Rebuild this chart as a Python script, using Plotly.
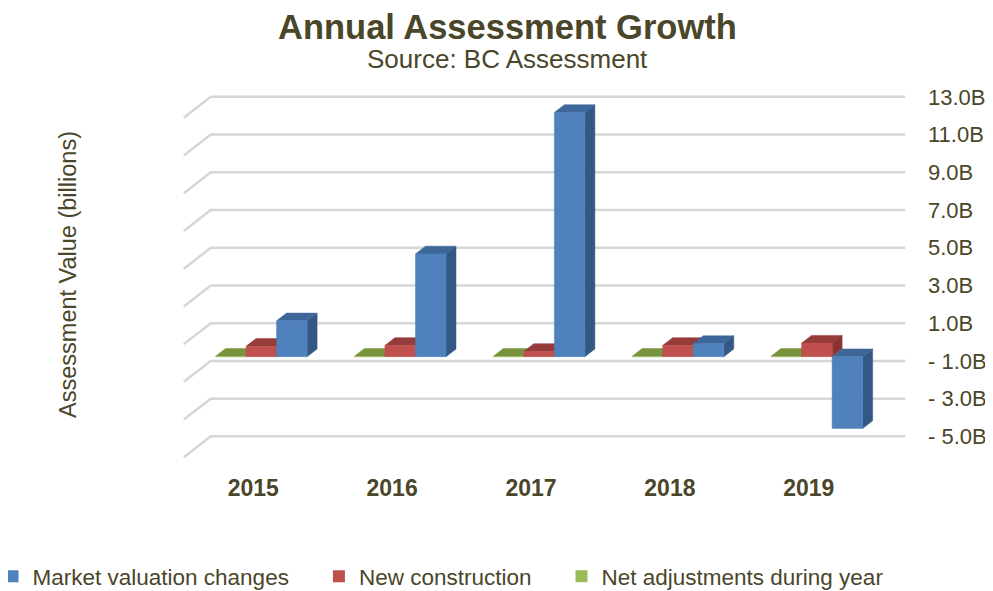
import plotly.graph_objects as go

years = ["2015", "2016", "2017", "2018", "2019"]
market_valuation = [1.9, 5.45, 12.95, 0.7, -3.8]
new_construction = [0.55, 0.6, 0.28, 0.6, 0.72]
net_adjustments = [0.02, 0.02, 0.02, 0.02, 0.02]
tick_values = [-5, -3, -1, 1, 3, 5, 7, 9, 11, 13]

TEXT = "#4A4629"
FONT = "Arial, Liberation Sans, sans-serif"

# fake 3D: back wall is the axis frame, depth pushes points left/down
DX, DY = 0.194, 1.11        # full floor depth in x-units / billions
F_FRONT, F_BACK = 0.70, 0.33  # bar front/back depth fractions
W = 0.22                    # bar width

series = [
    # name, values, front, top, side
    ("Net adjustments during year", net_adjustments, "#9BBB59", "#77933C", "#6A8535"),
    ("New construction", new_construction, "#C0504D", "#953B39", "#8A3432"),
    ("Market valuation changes", market_valuation, "#4F81BD", "#3E6799", "#345884"),
]
# trailing no-break spaces widen the legend entries like the original
legend_pad = {"Market valuation changes": 4, "New construction": 4, "Net adjustments during year": 0}


def proj(x, v, f):
    return x + DX * (1 - f), v - DY * f


def tick_label(v):
    return f"{v:.1f}B" if v >= 0 else f"- {abs(v):.1f}B"


fig = go.Figure()

# back wall + side wall gridlines
gx, gy = [], []
for v in tick_values:
    for x, val, f in [(-0.5, v, 1), (-0.5, v, 0), (4.5, v, 0)]:
        px, py = proj(x, val, f)
        gx.append(px)
        gy.append(py)
    gx.append(None)
    gy.append(None)
fig.add_trace(go.Scatter(x=gx, y=gy, mode="lines", line=dict(color="#D6D6D6", width=2.5),
                         hoverinfo="skip", showlegend=False))

for k, (name, vals, c_front, c_top, c_side) in enumerate(series):
    faces = {"side": ([], []), "top": ([], []), "front": ([], [])}
    for i, val in enumerate(vals):
        xc = i + (k - 1) * W
        xl, xr = xc - W / 2, xc + W / 2
        lo, hi = min(0, val), max(0, val)
        polys = {
            "side": [(xr, lo, F_FRONT), (xr, hi, F_FRONT), (xr, hi, F_BACK), (xr, lo, F_BACK)],
            "top": [(xl, hi, F_FRONT), (xr, hi, F_FRONT), (xr, hi, F_BACK), (xl, hi, F_BACK)],
            "front": [(xl, lo, F_FRONT), (xr, lo, F_FRONT), (xr, hi, F_FRONT), (xl, hi, F_FRONT)],
        }
        for face, pts in polys.items():
            for p in pts + [pts[0]]:
                px, py = proj(*p)
                faces[face][0].append(px)
                faces[face][1].append(py)
            faces[face][0].append(None)
            faces[face][1].append(None)
    for face, color in [("side", c_side), ("top", c_top), ("front", c_front)]:
        fig.add_trace(go.Scatter(
            x=faces[face][0], y=faces[face][1], mode="lines", fill="toself",
            fillcolor=color, line=dict(color=color, width=0.5),
            hoverinfo="skip", showlegend=False))

# legend entries (blue, red, green)
for name, vals, c_front, _, _ in reversed(series):
    fig.add_trace(go.Scatter(x=[None], y=[None], mode="markers",
                             name=name + "\u00a0" * legend_pad[name],
                             marker=dict(symbol="square", size=12, color=c_front)))

# page body has an 8px margin, so the figure is sized to the visible area
fig.update_layout(
    width=985, height=583,
    margin=dict(l=173, r=87, t=86, b=132, autoexpand=False),
    plot_bgcolor="white", paper_bgcolor="white",
    font=dict(family=FONT, color=TEXT),
    hovermode=False,
    xaxis=dict(range=[-0.52, 4.70], tickvals=list(range(len(years))),
               ticktext=[f"<b>{y}</b>" for y in years], tickfont=dict(size=23),
               showgrid=False, zeroline=False, showline=False, ticks="",
               ticklabelstandoff=13),
    yaxis=dict(range=[-6.2, 13.15], side="right", tickvals=tick_values,
               ticktext=[tick_label(v) for v in tick_values], tickfont=dict(size=22),
               showgrid=False, zeroline=False, showline=False, ticks="",
               ticklabelstandoff=21),
    legend=dict(orientation="h", x=-0.26, xanchor="left", y=-0.322, yanchor="middle",
                font=dict(size=22.5), bgcolor="rgba(0,0,0,0)"),
    annotations=[
        dict(text="<b>Annual Assessment Growth</b>", x=0.4497, y=1.183,
             xref="paper", yref="paper", showarrow=False, font=dict(size=34.5),
             xanchor="center", yanchor="middle"),
        dict(text="Source: BC Assessment", x=0.4497, y=1.095,
             xref="paper", yref="paper", showarrow=False, font=dict(size=26),
             xanchor="center", yanchor="middle"),
        dict(text="Assessment Value (billions)", x=-0.155, y=0.506,
             xref="paper", yref="paper", showarrow=False, font=dict(size=23.5),
             textangle=-90, xanchor="center", yanchor="middle"),
    ],
)

fig.write_html("out.html")
